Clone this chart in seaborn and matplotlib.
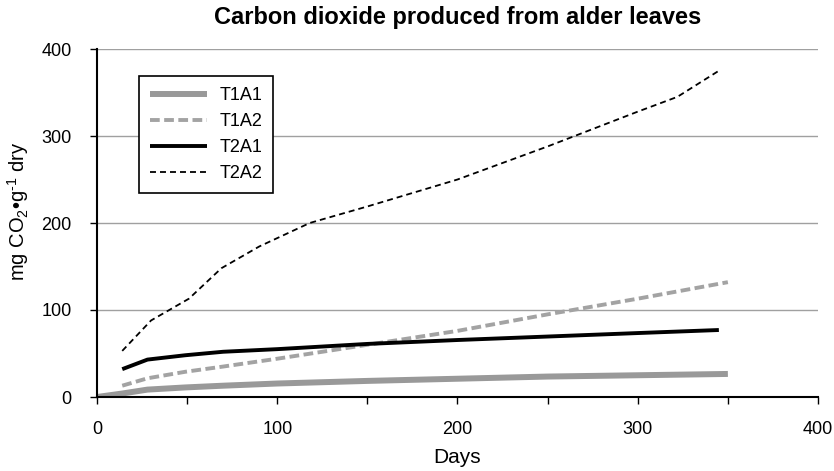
import matplotlib
matplotlib.use("Agg")
import matplotlib.pyplot as plt
import seaborn as sns
import pandas as pd

# ---- data ----
t1a1_days = [0, 14, 28, 49, 70, 100, 150, 200, 250, 300, 350]
t1a1_vals = [0, 4, 8.5, 11, 13, 15.5, 18.5, 21, 23.5, 25, 26.5]

t1a2_days = [14, 28, 49, 70, 100, 150, 200, 250, 300, 350]
t1a2_vals = [13, 21.5, 29, 35, 44, 60, 76, 95, 113, 132]

t2a1_days = [14, 28, 49, 70, 100, 150, 200, 250, 300, 345]
t2a1_vals = [32, 43, 48, 52, 55, 61, 65.5, 69.5, 73.5, 77]

t2a2_days = [14, 30, 51, 69, 90, 118, 150, 200, 250, 300, 322, 345]
t2a2_vals = [53, 88, 113, 148, 173, 200, 219, 250, 288, 328, 345, 375]

series_names = ["T1A1", "T1A2", "T2A1", "T2A2"]
x_ticks = [0, 100, 200, 300, 400]
x_minor_ticks = [50, 150, 250, 350]
y_ticks = [0, 100, 200, 300, 400]

title = "Carbon dioxide produced from alder leaves"
xlabel = "Days"
ylabel = r"mg CO$_2$•g$^{\mathrm{‐}1}$ dry"

# ---- style ----
sns.set_theme(style="white")
plt.rcParams["font.family"] = ["Liberation Sans", "DejaVu Sans"]
plt.rcParams["mathtext.fontset"] = "custom"
plt.rcParams["mathtext.rm"] = "Liberation Sans"
plt.rcParams["mathtext.it"] = "Liberation Sans"
plt.rcParams["lines.scale_dashes"] = False

fig = plt.figure(figsize=(8.34, 4.71), dpi=100)
ax = fig.add_axes([97 / 834, 1 - 397 / 471, 721 / 834, 348 / 471])

styles = {
    "T1A1": dict(color="#999999", linewidth=4.3, dashes=None),
    "T1A2": dict(color="#a3a3a3", linewidth=2.8, dashes=(7, 3.2)),
    "T2A1": dict(color="#000000", linewidth=2.8, dashes=None),
    "T2A2": dict(color="#000000", linewidth=1.3, dashes=(4.3, 2.9)),
}
data = {
    "T1A1": (t1a1_days, t1a1_vals),
    "T1A2": (t1a2_days, t1a2_vals),
    "T2A1": (t2a1_days, t2a1_vals),
    "T2A2": (t2a2_days, t2a2_vals),
}

for name in series_names:
    d, v = data[name]
    df = pd.DataFrame({"Days": d, "val": v})
    st = styles[name]
    sns.lineplot(data=df, x="Days", y="val", ax=ax, color=st["color"],
                 linewidth=st["linewidth"], label=name, solid_capstyle="butt",
                 dash_capstyle="butt")
    line = ax.get_lines()[-1]
    if st["dashes"] is not None:
        line.set_dashes(st["dashes"])

ax.set_xlim(0, 400)
ax.set_ylim(0, 400)
ax.set_xticks(x_ticks)
ax.set_xticks(x_minor_ticks, minor=True)
ax.set_yticks(y_ticks)
ax.tick_params(axis="both", which="both", direction="out", length=5.2, width=1.0,
               color="black", labelsize=13, bottom=True, left=True,
               labelcolor="black")
ax.tick_params(axis="x", which="major", pad=12)
ax.tick_params(axis="y", which="major", pad=13)

for yv in y_ticks[1:]:
    ax.axhline(yv, color="#a0a0a0", linewidth=1.0, zorder=0)

for s in ["top", "right"]:
    ax.spines[s].set_visible(False)
for s in ["left", "bottom"]:
    ax.spines[s].set_color("black")
    ax.spines[s].set_linewidth(1.5)

ax.set_xlabel(xlabel, fontsize=15, color="black")
ax.xaxis.set_label_coords(0.5, -0.147)
ax.set_ylabel(ylabel, fontsize=14.5, color="black")
ax.yaxis.set_label_coords(-0.0916, 0.534)
ax.set_title(title, fontsize=17, fontweight="bold", pad=18, color="black")

leg = ax.legend(loc="upper left", bbox_to_anchor=(0.058, 0.922), borderaxespad=0,
                fontsize=13, frameon=True, fancybox=False, framealpha=1,
                edgecolor="black", handlelength=3.16, handletextpad=0.72,
                labelspacing=0.5, borderpad=0.6)
leg.get_frame().set_linewidth(1.2)
for t in leg.get_texts():
    t.set_color("black")
for h, name in zip(leg.get_lines(), series_names):
    st = styles[name]
    if st["dashes"] is not None:
        h.set_dashes(st["dashes"])

fig.savefig("out.png", dpi=100)
